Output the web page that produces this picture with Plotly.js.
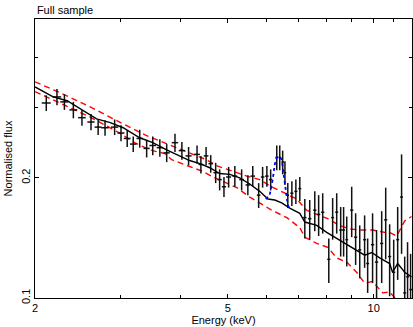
<!DOCTYPE html>
<html>
<head>
<meta charset="utf-8">
<script src="https://cdn.plot.ly/plotly-3.0.1.min.js"></script>
<style>html,body{margin:0;padding:0;background:#fff;}#chart{width:413px;height:327px;}</style>
</head>
<body>
<div id="chart"></div>
<script>
// Data points (energy keV, normalised flux, errors)
var dataE = [2.11,2.22,2.30,2.40,2.50,2.61,2.70,2.79,2.92,3.01,3.10,3.19,3.29,3.40,3.50,3.62,3.74,3.89,4.02,4.15,4.32,4.40,4.51,4.61,4.72,4.81,4.91,5.02,5.17,5.34,5.50,5.63,5.79,5.90,6.02,6.13,6.31,6.40,6.49,6.56,6.65,6.78,6.91,7.04,7.21,7.38,7.56,7.70,7.85,8.08,8.23,8.39,8.55,8.67,8.80,9.01,9.18,9.36,9.58,9.72,9.95,10.14,10.39,10.59,10.79,11.00,11.21,11.42,11.59,11.75,11.92];
var dataF = [0.308,0.319,0.310,0.296,0.283,0.276,0.268,0.267,0.268,0.259,0.251,0.243,0.251,0.237,0.241,0.238,0.231,0.245,0.234,0.227,0.229,0.216,0.227,0.217,0.206,0.198,0.190,0.201,0.202,0.198,0.192,0.202,0.181,0.201,0.202,0.198,0.225,0.225,0.219,0.206,0.181,0.183,0.185,0.188,0.159,0.158,0.166,0.162,0.164,0.125,0.159,0.164,0.148,0.148,0.140,0.166,0.142,0.132,0.140,0.122,0.136,0.123,0.137,0.157,0.127,0.116,0.140,0.179,0.103,0.113,0.105];
var dataFerr = [0.014,0.015,0.014,0.014,0.013,0.013,0.012,0.012,0.012,0.012,0.012,0.011,0.013,0.012,0.013,0.012,0.012,0.013,0.012,0.012,0.012,0.011,0.012,0.011,0.012,0.012,0.011,0.012,0.012,0.012,0.011,0.012,0.013,0.012,0.012,0.012,0.016,0.016,0.015,0.014,0.013,0.013,0.013,0.013,0.018,0.018,0.019,0.019,0.019,0.016,0.019,0.019,0.021,0.021,0.020,0.024,0.021,0.020,0.021,0.019,0.027,0.025,0.028,0.032,0.026,0.024,0.029,0.050,0.024,0.025,0.024];
var dataEerr = [0.045,0.045,0.045,0.045,0.045,0.045,0.045,0.05,0.05,0.05,0.05,0.05,0.05,0.05,0.055,0.055,0.055,0.06,0.06,0.06,0.06,0.05,0.05,0.05,0.05,0.05,0.05,0.06,0.06,0.06,0.06,0.06,0.05,0.05,0.05,0.05,0.04,0.04,0.04,0.04,0.04,0.05,0.05,0.05,0.06,0.06,0.06,0.06,0.06,0.06,0.06,0.06,0.06,0.06,0.06,0.07,0.07,0.07,0.07,0.07,0.08,0.08,0.08,0.08,0.08,0.08,0.08,0.08,0.08,0.08,0.08];

// Best-fit model
var modelE = [2.00,2.18,2.33,2.44,2.56,2.68,2.86,3.04,3.29,3.50,3.74,3.98,4.17,4.38,4.59,4.81,5.05,5.29,5.55,5.82,6.05,6.25,6.46,6.71,7.04,7.21,7.63,8.00,8.39,8.80,9.22,9.58,9.91,10.29,10.79,10.94,11.21,11.59,11.97];
var modelF = [0.338,0.319,0.312,0.301,0.291,0.281,0.275,0.267,0.252,0.245,0.235,0.227,0.221,0.217,0.212,0.205,0.204,0.200,0.193,0.185,0.177,0.176,0.173,0.168,0.163,0.155,0.152,0.146,0.141,0.136,0.131,0.128,0.130,0.126,0.122,0.116,0.122,0.116,0.113];

// Upper envelope
var upperE = [2.00,2.25,2.60,2.99,3.19,3.40,3.66,3.98,4.21,4.48,4.77,5.12,5.47,5.82,6.10,6.56,6.94,7.27,7.66,8.04,8.51,8.92,9.36,9.95,10.54,10.79,11.16,11.59,11.97];
var upperF = [0.348,0.327,0.301,0.275,0.265,0.255,0.246,0.237,0.230,0.223,0.214,0.208,0.202,0.198,0.191,0.183,0.177,0.166,0.162,0.158,0.152,0.149,0.148,0.148,0.146,0.146,0.143,0.156,0.160];

// Lower envelope
var lowerE = [2.00,2.25,2.60,2.99,3.21,3.45,3.71,3.83,4.14,4.42,4.70,5.22,5.55,6.16,6.62,7.04,7.21,7.63,8.04,8.39,8.80,9.22,9.58,9.95,10.44,10.79,11.16];
var lowerF = [0.329,0.308,0.284,0.259,0.245,0.235,0.230,0.222,0.214,0.208,0.200,0.189,0.179,0.166,0.159,0.150,0.142,0.137,0.134,0.126,0.123,0.116,0.109,0.110,0.103,0.1035,0.099];

// Model with Fe K line
var lineE = [5.99,6.10,6.19,6.25,6.31,6.40,6.46,6.52,6.59,6.65,6.71];
var lineF = [0.177,0.181,0.198,0.216,0.225,0.226,0.222,0.204,0.187,0.171,0.167];

var traces = [
  {x: upperE, y: upperF, mode: 'lines', line: {color: '#ff0000', width: 1.4, dash: '6px,4px'}, hoverinfo: 'skip'},
  {x: lowerE, y: lowerF, mode: 'lines', line: {color: '#ff0000', width: 1.4, dash: '6px,4px'}, hoverinfo: 'skip'},
  {x: dataE, y: dataF, mode: 'markers', marker: {size: 1, color: '#000'},
   error_y: {type: 'data', array: dataFerr, visible: true, color: '#111', thickness: 1.5, width: 0},
   error_x: {type: 'data', array: dataEerr, visible: true, color: '#111', thickness: 1.5, width: 0}},
  {x: modelE, y: modelF, mode: 'lines', line: {color: '#000', width: 1.4}},
  {x: lineE, y: lineF, mode: 'lines', line: {color: '#0000ff', width: 1.8, dash: 'dot'}}
];

var layout = {
  width: 413, height: 327,
  margin: {l: 35, r: 1, t: 19, b: 29},
  paper_bgcolor: '#fff', plot_bgcolor: '#fff',
  showlegend: false,
  font: {family: 'Liberation Sans, Arial, sans-serif', size: 11, color: '#000'},
  title: {text: 'Full sample', x: 0.005, xref: 'paper', xanchor: 'left', y: 1 - 10/327, yref: 'container', yanchor: 'middle', font: {size: 11, color: '#000'}},
  xaxis: {
    type: 'log', range: [Math.log10(2), Math.log10(12)],
    tickvals: [2, 5, 10], ticktext: ['2', '5', '10'],
    ticks: 'inside', ticklen: 4, tickcolor: '#000', tickwidth: 1,
    showline: true, linecolor: '#000', linewidth: 1, mirror: 'allticks',
    showgrid: false, zeroline: false,
    minor: {tickvals: [3, 4, 6, 7, 8, 9, 11, 12], ticks: 'inside', ticklen: 3, tickcolor: '#000', showgrid: false},
    title: {text: 'Energy (keV)', standoff: 2, font: {size: 11}},
    tickfont: {size: 11}
  },
  yaxis: {
    type: 'log', range: [-1, Math.log10(0.5)],
    tickvals: [0.1, 0.2], ticktext: ['0.1', '0.2'], tickangle: -90,
    ticks: 'inside', ticklen: 4, tickcolor: '#000', tickwidth: 1,
    showline: true, linecolor: '#000', linewidth: 1, mirror: 'allticks',
    showgrid: false, zeroline: false,
    minor: {tickvals: [0.3, 0.4, 0.5], ticks: 'inside', ticklen: 3, tickcolor: '#000', showgrid: false},
    title: {text: 'Normalised flux', standoff: 4, font: {size: 11}},
    tickfont: {size: 11}
  }
};

Plotly.newPlot('chart', traces, layout, {displayModeBar: false, staticPlot: true});
</script>
</body>
</html>
